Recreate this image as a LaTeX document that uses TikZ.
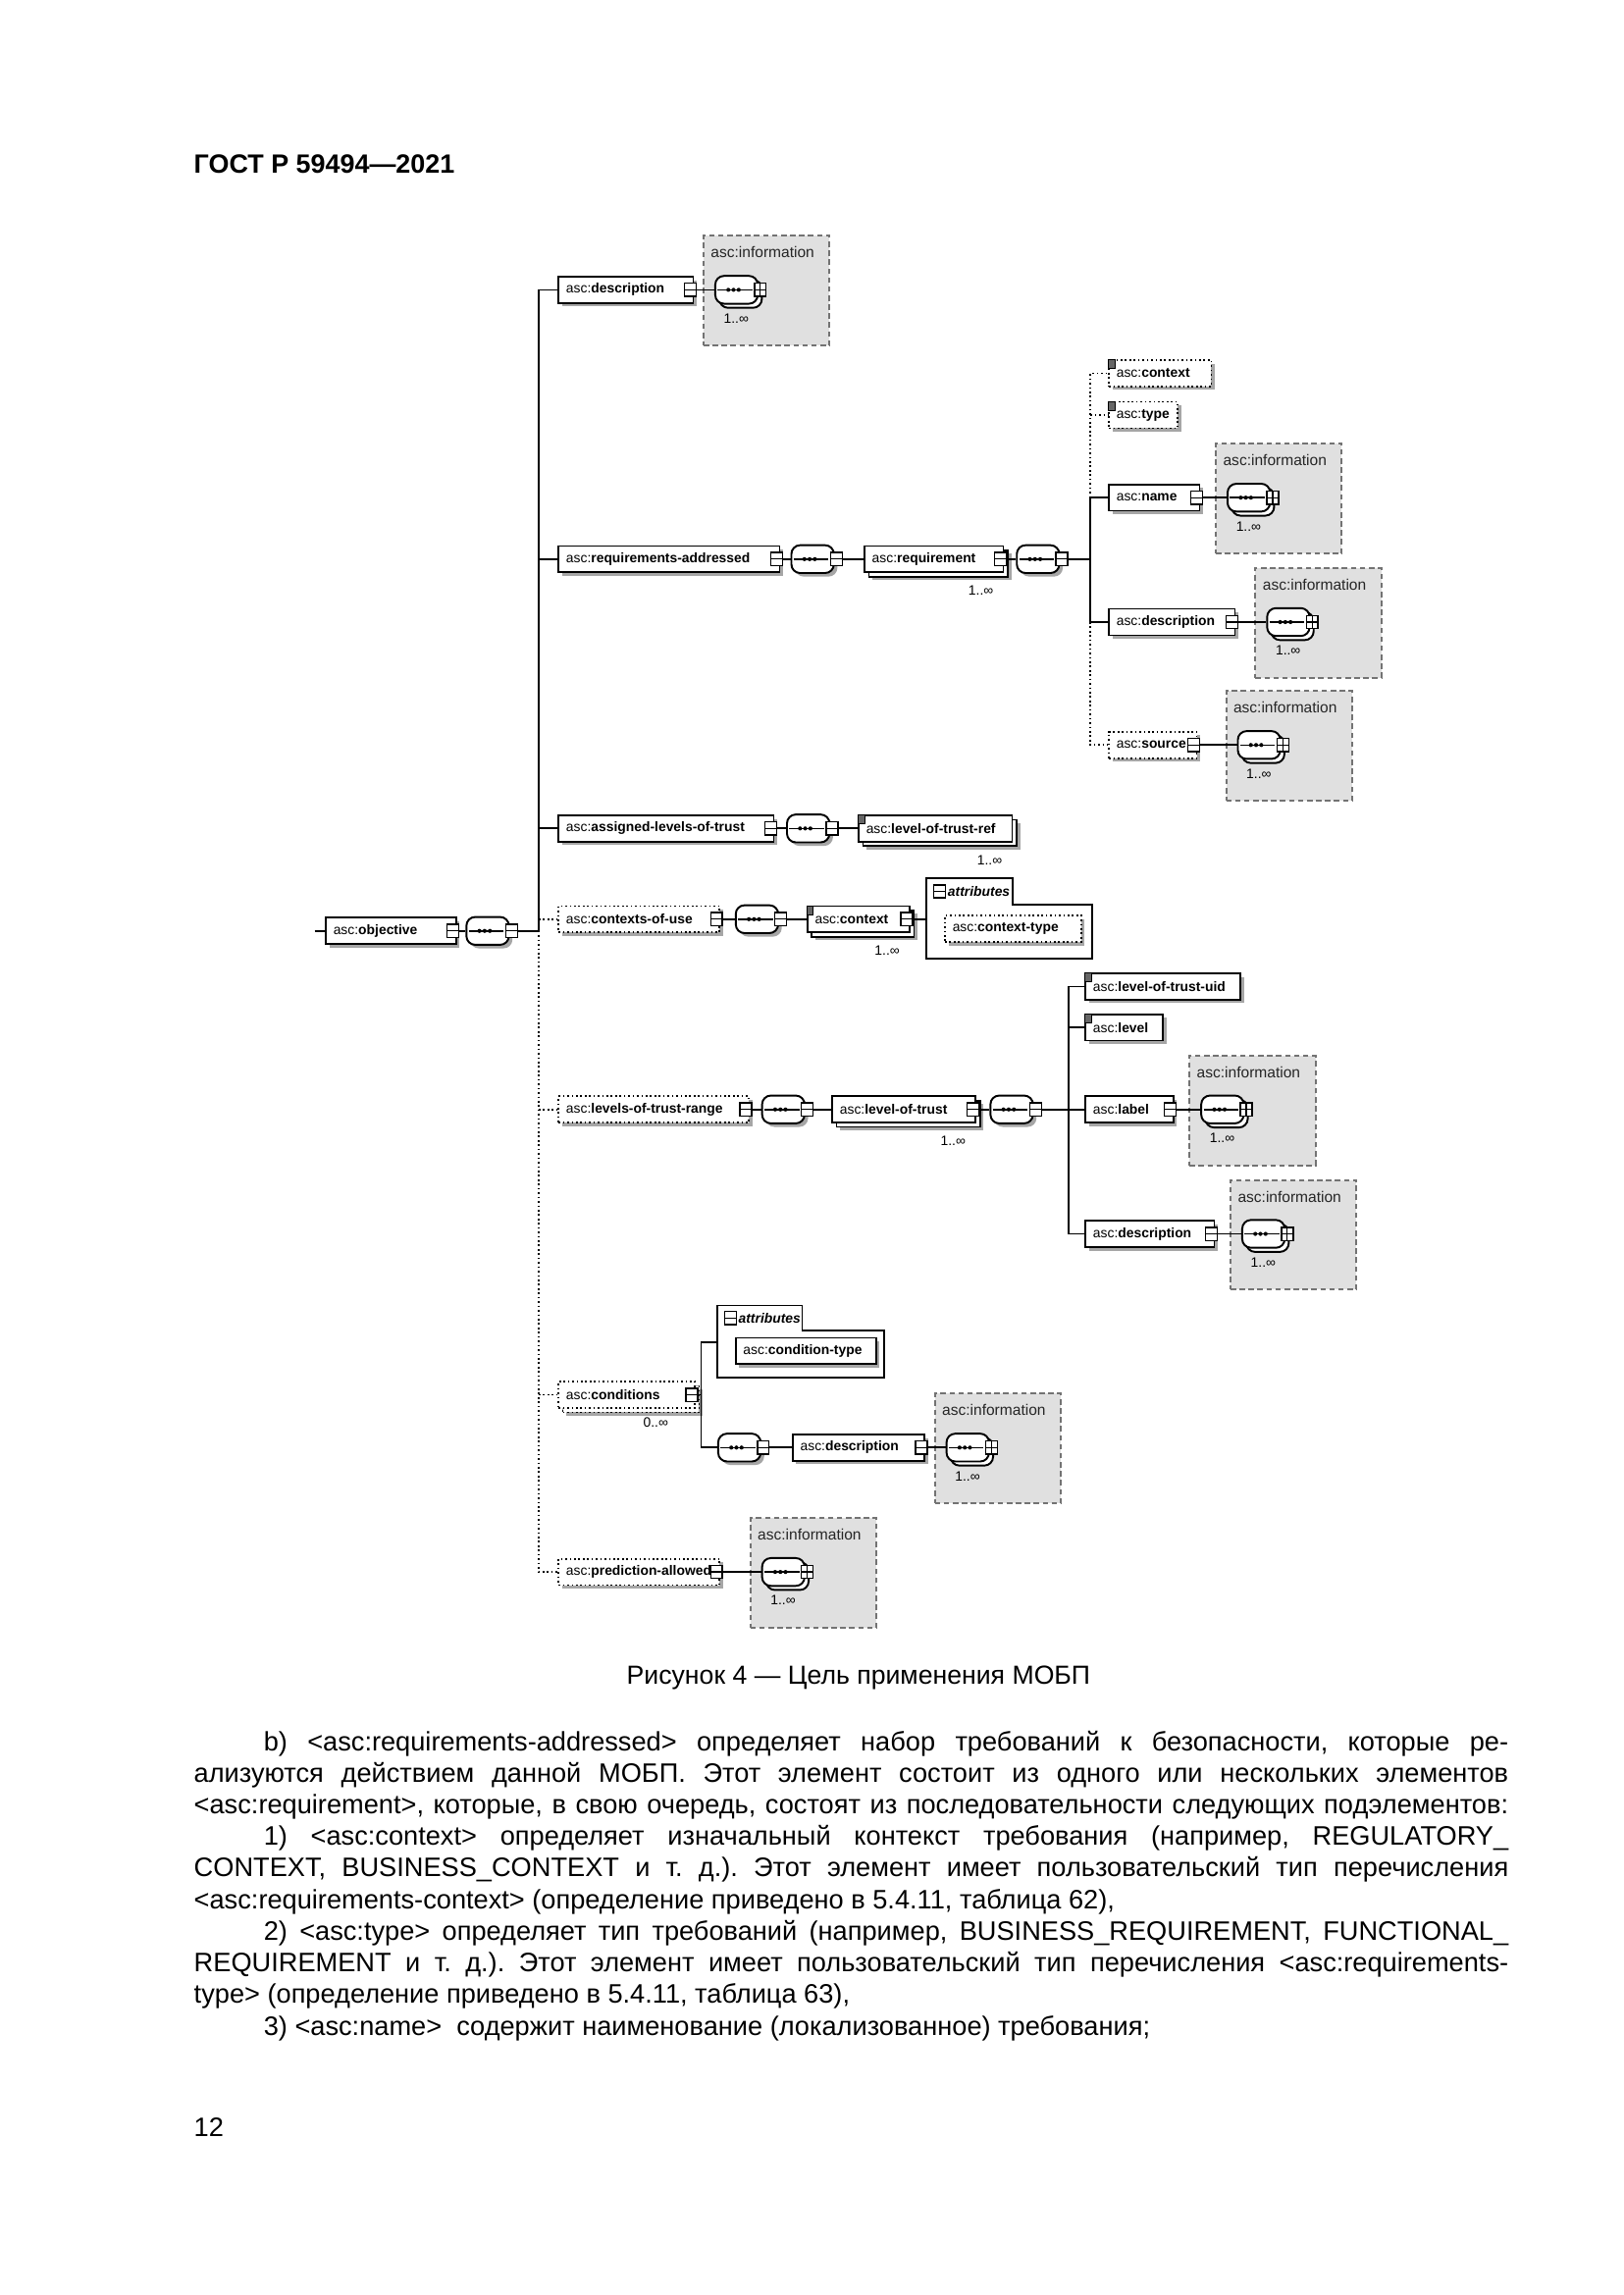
\documentclass[tikz,border=0pt]{standalone}
\usepackage{fontspec}
\setmainfont{Liberation Sans}
\usetikzlibrary{shadows, positioning}
\frenchspacing

\newcommand{\ux}{0.53745pt}
\newcommand{\dg}{\fontsize{5.0}{6}\selectfont}
\newcommand{\asc}[1]{\mbox{asc:\textbf{#1}}}

% element box with its label
\newcommand{\elnode}[6][]{%
  \node[elem, #1, minimum width=#5*\ux] (#2) at (#3,#4) {};
  \node[dgtxt, anchor=west] (#2l) at ([xshift=2.8pt]#2.west) {\asc{#6}};}
% collapse box, simple-type mark, occurrence label
\newcommand{\togof}[1]{\node[tog] (#1t) at ([xshift=-1.4pt]#1.east) {};}
\newcommand{\simpof}[1]{\node[simp] (#1s) at ([xshift=1.3pt,yshift=-1.8pt]#1.north west) {};}
\newcommand{\multof}[2]{\node[dgtxt] (#1m) at ([xshift=-8.6pt,yshift=-6.4pt]#1.south east) {#2};}
% sequence compositor
\newcommand{\seqof}[4][]{%
  \node[seqbox, #1] (#2) at (#3,#4) {};
  \draw[line width=0.55pt] ([xshift=1.2pt]#2.west) -- ([xshift=-2.3pt]#2.east);
  \foreach \dx in {-3.0,-1.1,0.8} \fill ([xshift=\dx pt]#2.center) circle (0.75pt);
  \node[tog] (#2t) at ([xshift=0.6pt]#2.east) {};}
% asc:information complex type box
\newcommand{\infobox}[3]{%
  \node[info] (#1box) at (#2,#3) {};
  \node[dgtxt, font=\fontsize{5.6}{6}\selectfont, text=black!85] (#1lab) at (#2+41,#3+12) {asc:information};
  \node[seqbox, seqstack] (#1) at (#2+8,#3+37.5) {};
  \draw[line width=0.55pt] ([xshift=1.2pt]#1.west) -- ([xshift=-2.3pt]#1.east);
  \foreach \dx in {-3.0,-1.1,0.8} \fill ([xshift=\dx pt]#1.center) circle (0.75pt);
  \node[togplus] (#1t) at ([xshift=0.6pt]#1.east) {};
  \node[dgtxt] (#1m) at (#2+23,#3+57) {1..∞};}

\begin{document}
\begin{tikzpicture}[
    x=0.53745pt, y=-0.53745pt, line width=0.6pt,
    dgtxt/.style={font=\dg, inner sep=0pt},
    txt/.style={inner sep=0pt, anchor=base west, font=\fontsize{9.8}{11.5}\selectfont},
    elem/.style={draw, fill=white, anchor=west, minimum height=18*\ux, inner sep=0pt,
                 drop shadow={shadow xshift=1.3pt, shadow yshift=-1.3pt, fill=black!35, opacity=1}},
    opt/.style={densely dotted},
    multi/.style={drop shadow={shadow xshift=2.9pt, shadow yshift=-2.9pt, fill=black!35, opacity=1},
                  copy shadow={shadow xshift=1.6pt, shadow yshift=-1.6pt, fill=white, draw=black, opacity=1}},
    optmulti/.style={drop shadow={shadow xshift=2.9pt, shadow yshift=-2.9pt, fill=black!35, opacity=1},
                  copy shadow={shadow xshift=1.6pt, shadow yshift=-1.6pt, fill=white, draw=black, densely dotted, opacity=1}},
    tog/.style={draw, fill=white, minimum width=4.3pt, minimum height=4.8pt, inner sep=0pt, line width=0.5pt,
                path picture={\draw[line width=0.45pt] (path picture bounding box.west) -- (path picture bounding box.east);}},
    togplus/.style={tog, path picture={\draw[line width=0.45pt] (path picture bounding box.west) -- (path picture bounding box.east)
                (path picture bounding box.north) -- (path picture bounding box.south);}},
    seqbox/.style={rectangle, rounded corners=3.2pt, draw, fill=white, anchor=west, minimum width=29*\ux,
                   minimum height=19*\ux, inner sep=0pt, line width=0.7pt,
                   drop shadow={shadow xshift=1.3pt, shadow yshift=-1.3pt, fill=black!35, opacity=1}},
    seqstack/.style={copy shadow={shadow xshift=1.5pt, shadow yshift=-1.5pt, fill=white, draw=black, opacity=1}},
    info/.style={draw=black!55, dash pattern=on 2pt off 1.3pt, fill=black!12, anchor=north west,
                 minimum width=86*\ux, minimum height=75*\ux, inner sep=0pt, line width=0.7pt},
    simp/.style={draw, fill=black!60, minimum width=2.4pt, minimum height=3.2pt, inner sep=0pt, line width=0.3pt},
    attr/.style={draw, fill=white}
  ]
  \fill[white] (0,0) rectangle (1109,1568);
  \useasboundingbox (0,0) rectangle (1109,1568);

  \node[anchor=base west, inner sep=0pt, font=\fontsize{9.7}{11}\selectfont\bfseries] (hdr) at (132,118.5) {ГОСТ Р 59494—2021};

  % description
  \elnode{descTop}{381}{198}{92}{description} \togof{descTop}
  \infobox{iA}{480}{160.5}

  % requirements-addressed
  \elnode{reqAddr}{381}{382}{151}{requirements-addressed} \togof{reqAddr}
  \seqof{raSeq}{540}{382}
  \elnode[multi]{requirement}{590}{382}{95}{requirement} \togof{requirement} \multof{requirement}{1..∞}
  \seqof{rqSeq}{694}{382}
  \coordinate (reqJ) at (745,382);
  \elnode[opt]{rContext}{757}{255}{70}{context} \simpof{rContext}
  \elnode[opt]{rType}{757}{283.5}{47}{type} \simpof{rType}
  \elnode{rName}{757}{340}{62}{name} \togof{rName}
  \infobox{iB}{830}{302.5}
  \elnode{rDesc}{757}{425}{86}{description} \togof{rDesc}
  \infobox{iC}{857}{387.5}
  \elnode[opt]{rSource}{757}{509}{60}{source} \togof{rSource}
  \infobox{iD}{837}{471.5}

  % assigned-levels-of-trust
  \elnode{assigned}{381}{566}{147}{assigned-levels-of-trust} \togof{assigned}
  \seqof{alSeq}{537}{566}
  \elnode[multi]{lotRef}{586}{566}{105}{level-of-trust-ref} \simpof{lotRef} \multof{lotRef}{1..∞}

  % objective
  \coordinate (objIn) at (215,636);
  \elnode{objective}{222}{636}{89}{objective} \togof{objective}
  \seqof{obSeq}{318}{636}
  \coordinate (mainJ) at (368,636);

  % contexts-of-use
  \elnode[opt]{ctxUse}{381}{628}{110}{contexts-of-use} \togof{ctxUse}
  \seqof{cuSeq}{502}{628}
  \elnode[multi]{context}{551}{628}{70}{context} \togof{context} \simpof{context} \multof{context}{1..∞}
  \draw[attr] (633,600) -- (692,600) -- (692,618) -- (746,618) -- (746,655) -- (633,655) -- cycle;
  \node[tog] (attrAt) at (642,609) {};
  \node[dgtxt, anchor=west] (attrAl) at (647,609) {\textbf{\textit{attributes}}};
  \elnode[opt]{ctxType}{645}{634.5}{93}{context-type}
  \coordinate (attrA) at (633,628);

  % levels-of-trust-range
  \elnode[opt]{lotRange}{381}{758}{130}{levels-of-trust-range} \togof{lotRange}
  \seqof{lrSeq}{520}{758}
  \elnode[multi]{lot}{568}{758}{98}{level-of-trust} \togof{lot} \multof{lot}{1..∞}
  \seqof{ltSeq}{676}{758}
  \coordinate (lotJ) at (730,758);
  \elnode{lotUid}{741}{674}{106}{level-of-trust-uid} \simpof{lotUid}
  \elnode{level}{741}{702}{53}{level} \simpof{level}
  \elnode{label}{741}{758}{60}{label} \togof{label}
  \infobox{iE}{812}{720.5}
  \elnode{lDesc}{741}{843}{88}{description} \togof{lDesc}
  \infobox{iF}{840}{805.5}

  % conditions
  \elnode[opt, optmulti]{conditions}{381}{953}{93}{conditions} \togof{conditions}
  \node[dgtxt] (conditionsm) at (448,972) {0..∞};
  \coordinate (condJ) at (479,953);
  \draw[attr] (490,892) -- (548,892) -- (548,909) -- (604,909) -- (604,941) -- (490,941) -- cycle;
  \node[tog] (attrBt) at (499,900.5) {};
  \node[dgtxt, anchor=west] (attrBl) at (504,900.5) {\textbf{\textit{attributes}}};
  \elnode{condType}{502}{923}{96}{condition-type}
  \coordinate (attrB) at (490,917);
  \seqof{cdSeq}{490}{989}
  \elnode{cDesc}{541}{989}{90}{description} \togof{cDesc}
  \infobox{iG}{638}{951.5}

  % prediction-allowed
  \elnode[opt]{predAllowed}{381}{1074}{110}{prediction-allowed} \togof{predAllowed}
  \infobox{iH}{512}{1036.5}

  % connectors
  \draw (objIn) -- (objective.west);
  \draw (objectivet.east) -- (obSeq.west);
  \draw (obSeqt.east) -- (mainJ);
  \draw (mainJ) |- (descTop.west);
  \draw (mainJ) |- (reqAddr.west);
  \draw (mainJ) |- (assigned.west);
  \draw[densely dotted] (mainJ) |- (predAllowed.west);
  \draw[densely dotted] (mainJ |- ctxUse.west) -- (ctxUse.west);
  \draw[densely dotted] (mainJ |- lotRange.west) -- (lotRange.west);
  \draw[densely dotted] (mainJ |- conditions.west) -- (conditions.west);
  \draw (descTopt.east) -- (iA.west);
  \draw (reqAddrt.east) -- (raSeq.west);
  \draw (raSeqt.east) -- (requirement.west);
  \draw (requirementt.east) -- (rqSeq.west);
  \draw (rqSeqt.east) -- (reqJ);
  \draw (reqJ) |- (rName.west);
  \draw (reqJ) |- (rDesc.west);
  \draw[densely dotted] (reqJ |- rName.west) |- (rContext.west);
  \draw[densely dotted] (reqJ |- rType.west) -- (rType.west);
  \draw[densely dotted] (reqJ |- rDesc.west) |- (rSource.west);
  \draw (rNamet.east) -- (iB.west);
  \draw (rDesct.east) -- (iC.west);
  \draw (rSourcet.east) -- (iD.west);
  \draw (assignedt.east) -- (alSeq.west);
  \draw (alSeqt.east) -- (lotRef.west);
  \draw (ctxUset.east) -- (cuSeq.west);
  \draw (cuSeqt.east) -- (context.west);
  \draw (contextt.east) -- (attrA);
  \draw (lotRanget.east) -- (lrSeq.west);
  \draw (lrSeqt.east) -- (lot.west);
  \draw (lott.east) -- (ltSeq.west);
  \draw (ltSeqt.east) -- (lotJ);
  \draw (lotJ) |- (lotUid.west);
  \draw (lotJ) |- (lDesc.west);
  \draw (lotJ |- level.west) -- (level.west);
  \draw (lotJ) -- (label.west);
  \draw (labelt.east) -- (iE.west);
  \draw (lDesct.east) -- (iF.west);
  \draw (conditionst.east) -- (condJ);
  \draw (condJ) |- (attrB);
  \draw (condJ) |- (cdSeq.west);
  \draw (cdSeqt.east) -- (cDesc.west);
  \draw (cDesct.east) -- (iG.west);
  \draw (predAllowedt.east) -- (iH.west);

  % caption and text
  \node[anchor=base, inner sep=0pt, font=\fontsize{9.6}{11}\selectfont] (cap) at (586.5,1151) {Рисунок 4 — Цель применения МОБП};
  \node[txt] (l1) at (132,1196) {\makebox[482.6pt][s]{\hspace*{25.6pt}b) <asc:requirements-addressed> определяет набор требований к безопасности, которые ре-}};
  \node[txt] (l2) at (132,1217.6) {\makebox[482.6pt][s]{ализуются действием данной МОБП. Этот элемент состоит из одного или нескольких элементов}};
  \node[txt] (l3) at (132,1239.2) {\makebox[482.6pt][s]{<asc:requirement>, которые, в свою очередь, состоят из последовательности следующих подэлементов:}};
  \node[txt] (l4) at (132,1260.8) {\makebox[482.6pt][s]{\hspace*{25.6pt}1) <asc:context> определяет изначальный контекст требования (например, REGULATORY\_}};
  \node[txt] (l5) at (132,1282.4) {\makebox[482.6pt][s]{CONTEXT, BUSINESS\_CONTEXT и т. д.). Этот элемент имеет пользовательский тип перечисления}};
  \node[txt] (l6) at (132,1304.0) {<asc:requirements-context> (определение приведено в 5.4.11, таблица 62),};
  \node[txt] (l7) at (132,1325.6) {\makebox[482.6pt][s]{\hspace*{25.6pt}2) <asc:type> определяет тип требований (например, BUSINESS\_REQUIREMENT, FUNCTIONAL\_}};
  \node[txt] (l8) at (132,1347.2) {\makebox[482.6pt][s]{REQUIREMENT и т. д.). Этот элемент имеет пользовательский тип перечисления <asc:requirements-}};
  \node[txt] (l9) at (132,1368.8) {type> (определение приведено в 5.4.11, таблица 63),};
  \node[txt] (l10) at (132,1390.4) {\hspace*{25.6pt}3) <asc:name>\ \ содержит наименование (локализованное) требования;};
  \node[txt] (pg) at (132,1460) {12};
\end{tikzpicture}
\end{document}
